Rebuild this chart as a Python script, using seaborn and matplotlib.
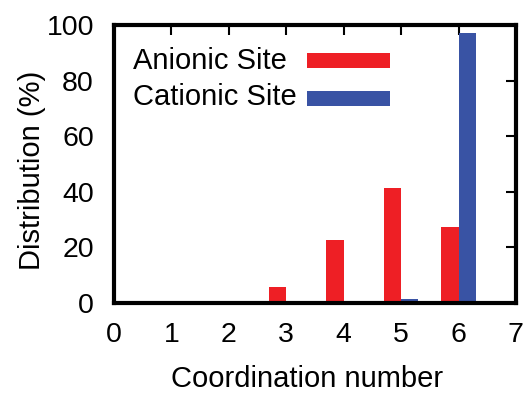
import pandas as pd
import matplotlib
matplotlib.use("Agg")
import matplotlib.pyplot as plt
import seaborn as sns
from matplotlib.patches import Rectangle

# Coordination number distribution (%)
coord = [3, 4, 5, 6]
anionic = [5.6, 22.8, 41.5, 27.2]
cationic = [0.0, 0.0, 1.6, 97.3]
sites = ["Anionic Site", "Cationic Site"]
colors = ["#EE1F25", "#3953A4"]

df = pd.DataFrame({
    "coord": coord * 2,
    "value": anionic + cationic,
    "site": [sites[0]] * len(coord) + [sites[1]] * len(coord),
})

sns.set_style("white")
plt.rcParams["font.family"] = ["Liberation Sans", "DejaVu Sans"]

fig = plt.figure(figsize=(5.24, 3.95), dpi=100)
ax = fig.add_axes([0.2176, 0.2329, 0.767, 0.7038])

sns.barplot(data=df, x="coord", y="value", hue="site", hue_order=sites,
            palette=colors, native_scale=True, width=0.6, errorbar=None,
            linewidth=0, saturation=1, legend=False, ax=ax)

ax.set_xlim(0, 7)
ax.set_ylim(0, 100)
ax.set_xticks(range(0, 8))
ax.set_yticks(range(0, 101, 20))
ax.tick_params(direction="in", top=True, right=True, length=7, width=1.5,
               labelsize=20.5, color="black", labelcolor="black")
ax.tick_params(axis="x", pad=13.5)
ax.tick_params(axis="y", pad=14.5)
for s in ax.spines.values():
    s.set_linewidth(3)
    s.set_color("black")
    s.set_zorder(5)

ax.set_xlabel("Coordination number", fontsize=21, color="black")
ax.set_ylabel("Distribution (%)", fontsize=21, color="black")
ax.xaxis.set_label_coords(0.48, -0.224)
ax.yaxis.set_label_coords(-0.17, 0.477)

# gnuplot-style key: label left, sample right
rows = [(0.840, 0.874), (0.713, 0.736)]
for (ty, cy), lab, col in zip(rows, sites, colors):
    ax.text(0.048, ty, lab, transform=ax.transAxes, fontsize=21,
            ha="left", va="baseline", color="black")
    ax.add_patch(Rectangle((0.479, cy - 0.027), 0.208, 0.054,
                           transform=ax.transAxes, color=col, lw=0))

fig.savefig("out.png", dpi=100)
